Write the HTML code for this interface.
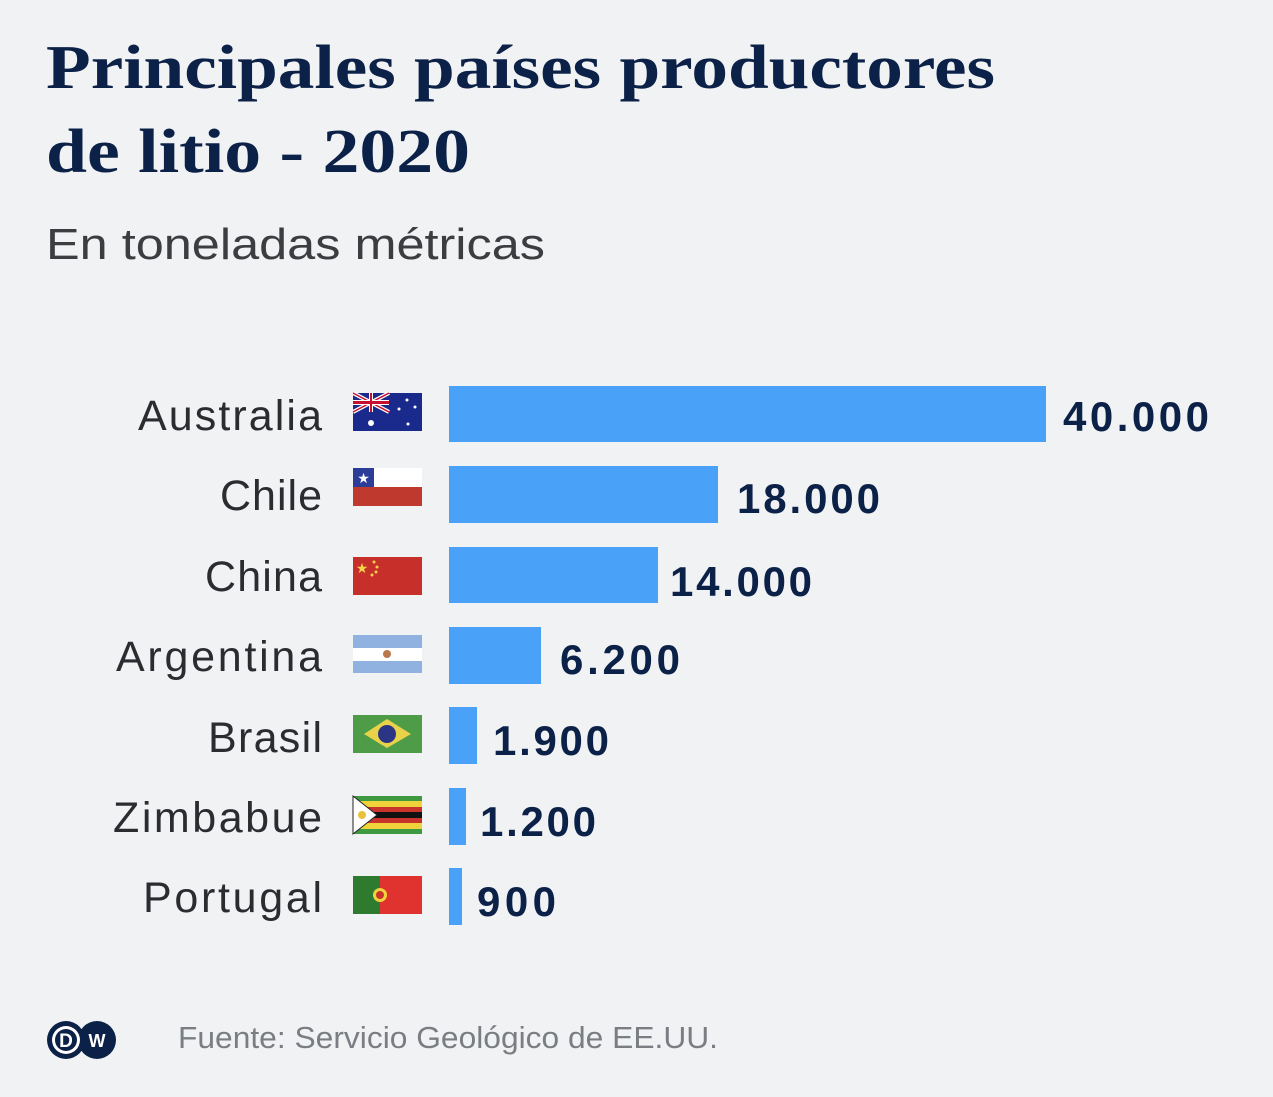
<!DOCTYPE html>
<html><head><meta charset="utf-8"><style>
html,body{margin:0;padding:0;background:#f1f2f4;}
svg{display:block}
</style></head><body>
<svg width="1273" height="1097" viewBox="0 0 1273 1097" xmlns="http://www.w3.org/2000/svg">
<rect width="1273" height="1097" fill="#f1f2f4"/>
<g font-family="Liberation Serif, serif" font-size="62" fill="#0c2148" font-weight="bold">
<text x="46" y="88" textLength="949" lengthAdjust="spacingAndGlyphs">Principales países productores</text>
<text x="46" y="172" textLength="424" lengthAdjust="spacingAndGlyphs">de litio - 2020</text>
</g>
<text x="46" y="259" font-family="Liberation Sans, sans-serif" font-size="44" fill="#3b3d40" textLength="499" lengthAdjust="spacingAndGlyphs">En toneladas métricas</text>
<g font-family="Liberation Sans, sans-serif" font-size="43" fill="#2a2c30" lengthAdjust="spacingAndGlyphs">
<text x="138" y="430" textLength="184">Australia</text>
<text x="220" y="510" textLength="102">Chile</text>
<text x="205" y="591" textLength="117">China</text>
<text x="116" y="671" textLength="206">Argentina</text>
<text x="208" y="752" textLength="114">Brasil</text>
<text x="113" y="832" textLength="209">Zimbabue</text>
<text x="143" y="912" textLength="179">Portugal</text>
</g>
<g fill="#4aa2f8">
<rect x="449" y="386" width="597" height="56"/>
<rect x="449" y="466" width="269" height="57"/>
<rect x="449" y="547" width="209" height="56"/>
<rect x="449" y="627" width="92" height="57"/>
<rect x="449" y="707" width="28" height="57"/>
<rect x="449" y="788" width="17" height="57"/>
<rect x="449" y="868" width="13" height="57"/>
</g>
<g font-family="Liberation Sans, sans-serif" font-size="42" font-weight="bold" fill="#0c2148" lengthAdjust="spacingAndGlyphs">
<text x="1063" y="431" textLength="146">40.000</text>
<text x="737" y="513" textLength="143">18.000</text>
<text x="670" y="596" textLength="142">14.000</text>
<text x="560" y="674" textLength="120">6.200</text>
<text x="493" y="755" textLength="116">1.900</text>
<text x="480" y="836" textLength="116">1.200</text>
<text x="477" y="916" textLength="79">900</text>
</g>
<g>
<rect x="353" y="393" width="69" height="38" fill="#1a2a8c"/>
<path d="M353 393L389 412M389 393L353 412" stroke="#fff" stroke-width="4"/>
<path d="M353 393L389 412M389 393L353 412" stroke="#c8102e" stroke-width="1.5"/>
<rect x="369" y="393" width="4" height="19" fill="#fff"/><rect x="353" y="400" width="36" height="5" fill="#fff"/>
<rect x="370" y="393" width="2" height="19" fill="#c8102e"/><rect x="353" y="401" width="36" height="3" fill="#c8102e"/>
<circle cx="371" cy="423" r="3" fill="#fff"/><circle cx="407" cy="400" r="1.5" fill="#fff"/><circle cx="399" cy="409" r="1.5" fill="#fff"/><circle cx="415" cy="407" r="1.5" fill="#fff"/><circle cx="408" cy="424" r="1.5" fill="#fff"/>

<rect x="353" y="468" width="69" height="19" fill="#fff"/>
<rect x="353" y="487" width="69" height="19" fill="#c0392f"/>
<rect x="353" y="468" width="21" height="19" fill="#2b3d99"/>
<text x="363.5" y="483" font-size="14" fill="#fff" text-anchor="middle">★</text>

<rect x="353" y="557" width="69" height="38" fill="#c62f2a"/>
<text x="362" y="573" font-size="14" fill="#f6d34a" text-anchor="middle">★</text>
<circle cx="374" cy="562" r="1.5" fill="#f6d34a"/><circle cx="377" cy="567" r="1.5" fill="#f6d34a"/><circle cx="376" cy="572" r="1.5" fill="#f6d34a"/><circle cx="372" cy="575" r="1.5" fill="#f6d34a"/>

<rect x="353" y="635" width="69" height="38" fill="#fff"/>
<rect x="353" y="635" width="69" height="13" fill="#8fb2e0"/>
<rect x="353" y="661" width="69" height="12" fill="#8fb2e0"/>
<circle cx="387" cy="654" r="4" fill="#b9774a"/>

<rect x="353" y="715" width="69" height="38" fill="#4e9b48"/>
<polygon points="364,734 387,719 411,734 387,748" fill="#e8d24a"/>
<circle cx="387" cy="734" r="9" fill="#2a3585"/>

<rect x="353" y="796" width="69" height="38" fill="#3d9a40"/>
<rect x="353" y="801" width="69" height="6" fill="#f0d23a"/>
<rect x="353" y="807" width="69" height="5" fill="#c8332c"/>
<rect x="353" y="812" width="69" height="6" fill="#111"/>
<rect x="353" y="818" width="69" height="5" fill="#c8332c"/>
<rect x="353" y="823" width="69" height="6" fill="#f0d23a"/>
<polygon points="353,796 377,815 353,834" fill="#fff" stroke="#222" stroke-width="1"/>
<circle cx="362" cy="815" r="4" fill="#e8c23a"/>

<rect x="353" y="876" width="69" height="38" fill="#e0322e"/>
<rect x="353" y="876" width="27" height="38" fill="#2e7a2e"/>
<circle cx="380" cy="895" r="7" fill="#f0d23a"/>
<circle cx="380" cy="895" r="4" fill="#c8332c"/>
</g>
<circle cx="66" cy="1040" r="19" fill="#0c2148"/>
<circle cx="97" cy="1040" r="19" fill="#0c2148"/>
<circle cx="66" cy="1040" r="14" fill="#fff"/>
<circle cx="66" cy="1040" r="11" fill="#0c2148"/>
<text x="66" y="1047" font-family="Liberation Sans, sans-serif" font-size="19" font-weight="bold" fill="#fff" text-anchor="middle">D</text>
<text x="97" y="1047" font-family="Liberation Sans, sans-serif" font-size="18" font-weight="bold" fill="#fff" text-anchor="middle">W</text>
<text x="178" y="1048" font-family="Liberation Sans, sans-serif" font-size="31" fill="#7a7d82" textLength="540" lengthAdjust="spacingAndGlyphs">Fuente: Servicio Geológico de EE.UU.</text>
</svg>
</body></html>
